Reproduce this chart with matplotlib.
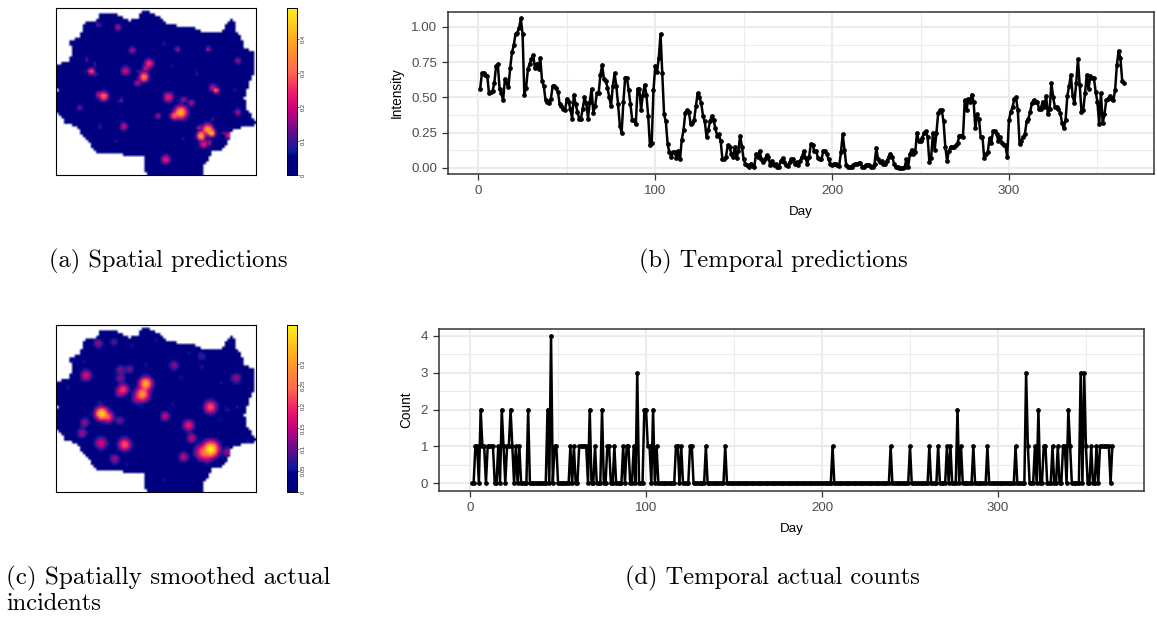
import numpy as np
import matplotlib
matplotlib.use("Agg")
import matplotlib.pyplot as plt
from matplotlib.colors import LinearSegmentedColormap
from matplotlib.path import Path

intensity = [
    .56, .67, .67, .66, .655, .53, .535, .545, .60, .72, .735, .56, .53, .48, .63, .60, .575, .71, .82, .87,
    .95, .96, .99, 1.06, .95, .52, .57, .70, .74, .77, .80, .71, .74, .70, .78, .62, .58, .48, .47, .46,
    .49, .58, .58, .57, .54, .45, .44, .42, .41, .49, .47, .42, .35, .52, .45, .40, .35, .35, .42, .50,
    .46, .35, .47, .56, .39, .44, .53, .53, .66, .73, .63, .62, .57, .50, .44, .58, .67, .58, .45, .30,
    .25, .47, .64, .64, .55, .45, .34, .34, .31, .56, .56, .41, .52, .59, .52, .37, .16, .18, .55, .72,
    .68, .78, .95, .67, .38, .33, .17, .11, .08, .11, .11, .07, .12, .06, .20, .27, .39, .41, .40, .31,
    .32, .34, .44, .53, .50, .46, .37, .33, .22, .27, .33, .37, .34, .28, .23, .24, .19, .06, .06, .08,
    .16, .15, .10, .08, .15, .07, .12, .23, .15, .06, .03, .02, .01, .03, .015, .01, .10, .08, .12, .06,
    .04, .06, .09, .08, .02, .05, .02, .03, .01, .01, .05, .07, .04, .02, .015, .04, .06, .06, .03, .04,
    .02, .05, .08, .12, .07, .03, .08, .17, .16, .12, .12, .07, .06, .06, .12, .12, .10, .06, .03, .02,
    .03, .03, .02, .015, .11, .24, .13, .02, .01, .01, .01, .02, .03, .03, .035, .035, .01, .01, .02, .02,
    .02, .01, .01, .03, .14, .06, .04, .05, .03, .03, .05, .08, .10, .08, .03, .01, .005, .0, .0, .0,
    .005, .06, .01, .10, .13, .10, .11, .25, .19, .19, .21, .25, .26, .22, .04, .07, .25, .13, .25, .39,
    .41, .41, .33, .15, .05, .12, .15, .15, .15, .16, .18, .23, .23, .22, .48, .41, .49, .47, .52, .47,
    .28, .38, .35, .22, .22, .07, .10, .11, .21, .18, .26, .26, .24, .19, .22, .18, .16, .16, .08, .34,
    .40, .43, .49, .50, .41, .17, .19, .22, .24, .33, .35, .40, .46, .48, .47, .47, .42, .42, .47, .43,
    .51, .38, .42, .60, .50, .43, .43, .42, .39, .32, .28, .34, .51, .58, .66, .51, .46, .60, .77, .59,
    .40, .41, .53, .66, .56, .65, .64, .64, .54, .47, .31, .53, .32, .38, .48, .49, .51, .49, .48, .55,
    .73, .83, .78, .62, .60,
]
count_days = [3, 4, 6, 7, 8, 10, 11, 12, 13, 16, 18, 19, 21, 22, 23, 24, 26, 28, 33, 44, 46, 48, 49,
              57, 59, 62, 63, 64, 65, 66, 68, 71, 75, 78, 79, 82, 87, 89, 90, 93, 95, 99, 100, 101, 102,
              104, 106, 117, 118, 120, 125, 126, 134, 145, 206, 239, 250, 261, 266, 271, 273, 277, 279,
              286, 294, 310, 316, 317, 321, 323, 326, 327, 331, 334, 337, 338, 340, 341, 347, 349, 350,
              353, 356, 358, 359, 360, 361, 362, 363, 365]
count_vals = [1, 1, 2, 1, 1, 1, 1, 1, 1, 1, 2, 1, 1, 1, 2, 1, 1, 1, 2, 2, 4, 1, 1,
              1, 1, 1, 1, 1, 1, 1, 2, 1, 2, 1, 1, 1, 1, 1, 1, 1, 3, 2, 2, 1, 1,
              2, 1, 1, 1, 1, 1, 1, 1, 1, 1, 1, 1, 1, 1, 1, 1, 2, 1,
              1, 1, 1, 3, 1, 1, 2, 1, 1, 1, 1, 1, 1, 2, 1, 3, 3, 1,
              1, 1, 1, 1, 1, 1, 1, 1, 1]

# region outline, x/y in 0-602 / 0-500 map units, y down
outline_x = [263, 278, 298, 318, 333, 348, 363, 413, 423, 443, 493, 501, 508, 518, 531, 538, 548, 563, 563, 588,
             595, 595, 583, 573, 563, 571, 583, 598, 588, 563, 533, 523, 513, 498, 468, 458, 443, 438, 435, 278,
             268, 268, 243, 213, 188, 118, 103, 83, 63, 28, 13, -2, -2, 8, -2, -2, 8, 38, 51, 41,
             41, 68, 78, 88, 128, 131, 178, 218, 248, 253]
outline_y = [5, 13, 23, 33, 45, 50, 53, 55, 65, 70, 75, 65, 45, 35, 37, 65, 83, 105, 123, 125,
             150, 180, 210, 240, 270, 300, 320, 340, 350, 353, 360, 370, 400, 420, 425, 445, 465, 495, 500, 500,
             485, 445, 437, 440, 430, 430, 405, 385, 350, 345, 320, 300, 260, 243, 230, 175, 165, 160, 125, 110,
             95, 90, 65, 40, 35, 18, 17, 37, 30, 13]

# hot spots: x, y, height, width
spots_a = [(126, 50, .15, 5), (185, 57, .2, 6), (228, 125, .2, 6), (321, 105, .12, 4), (363, 123, .2, 5),
           (455, 122, .25, 4), (543, 157, .18, 6), (91, 153, .15, 4), (116, 167, .12, 4), (105, 188, .3, 6),
           (118, 197, .12, 5), (208, 187, .22, 8), (278, 165, .27, 8), (268, 180, .2, 6), (248, 188, .12, 4),
           (263, 205, .38, 8), (243, 223, .2, 6), (346, 173, .08, 4), (420, 193, .1, 4), (473, 197, .08, 3),
           (468, 237, .2, 7), (479, 245, .33, 5), (535, 243, .1, 4), (143, 262, .33, 8), (128, 257, .2, 6),
           (195, 275, .15, 5), (70, 297, .15, 6), (336, 265, .25, 9), (381, 272, .18, 6), (405, 282, .2, 6),
           (373, 310, .42, 11), (353, 320, .3, 7), (305, 321, .18, 6), (543, 310, .2, 6), (133, 353, .13, 4),
           (203, 352, .22, 7), (568, 345, .1, 4), (181, 398, .1, 3), (328, 450, .25, 8), (378, 390, .1, 4),
           (453, 360, .4, 9), (433, 380, .45, 7), (465, 372, .45, 6), (428, 357, .2, 5), (441, 405, .25, 7),
           (458, 400, .2, 5), (515, 378, .25, 6), (498, 372, .12, 4), (468, 330, .12, 4), (243, 400, .06, 3),
           (396, 85, .05, 3), (225, 55, .06, 4)]
spots_c = [(126, 55, .13, 7), (173, 51, .1, 6), (228, 61, .06, 6), (298, 44, .06, 5), (398, 83, .06, 5),
           (435, 93, .09, 7), (435, 125, .07, 5), (353, 120, .13, 7), (83, 106, .06, 5), (268, 120, .06, 5),
           (375, 156, .06, 5), (493, 173, .06, 5), (538, 158, .13, 8), (90, 150, .18, 8), (193, 133, .12, 7),
           (193, 158, .12, 7), (220, 131, .12, 6), (36, 185, .06, 5), (268, 174, .33, 9), (258, 206, .28, 10),
           (243, 218, .14, 8), (201, 191, .2, 8), (191, 200, .15, 7), (131, 228, .06, 5), (136, 263, .36, 9),
           (155, 273, .22, 8), (191, 283, .11, 7), (346, 238, .06, 5), (326, 271, .16, 7), (461, 244, .24, 9),
           (511, 250, .07, 5), (541, 244, .07, 5), (488, 280, .06, 5), (86, 290, .13, 7), (78, 321, .14, 7),
           (396, 298, .2, 8), (368, 328, .05, 5), (405, 336, .16, 7), (135, 351, .17, 9), (205, 355, .24, 9),
           (571, 345, .06, 5), (463, 368, .38, 11), (438, 378, .22, 11), (453, 393, .15, 8), (513, 378, .14, 7),
           (381, 392, .16, 7), (175, 398, .14, 7), (215, 415, .06, 5), (273, 405, .05, 5), (326, 458, .06, 5)]

W, H = 1157, 619
cmap_stops = [(0, "#000080"), (.11, "#000080"), (.14, "#0A1A9A"), (.22, "#4B1090"), (.4, "#D00080"),
              (.5, "#F0206A"), (.62, "#FF6A50"), (.8, "#FFA520"), (1, "#FFF01A")]
heat = LinearSegmentedColormap.from_list("heat", cmap_stops)

plt.rcParams["font.family"] = ["Liberation Sans", "DejaVu Sans"]
fig = plt.figure(figsize=(W / 100, H / 100), dpi=100)


def px_axes(left, top, right, bottom):
    return fig.add_axes([left / W, 1 - bottom / H, (right - left) / W, (bottom - top) / H])


def draw_map(spots, top, bottom, vmax, spread):
    ax = px_axes(55.7, top, 256, bottom)
    gx, gy = np.meshgrid(np.arange(4, 602, 8.0), np.arange(4, 500, 8.0))
    field = np.zeros_like(gx)
    for x, y, h, w in spots:
        w = w * spread
        part = h * np.exp(-((gx - x) ** 2 + (gy - y) ** 2) / (2 * w * w))
        field = np.maximum(field, part) + 0.25 * np.minimum(field, part)
    rgba = heat(np.clip(field / vmax, 0, 1))
    inside = Path(np.column_stack([outline_x, outline_y])).contains_points(np.column_stack([gx.ravel(), gy.ravel()]))
    rgba[..., 3] = inside.reshape(gx.shape)
    ax.imshow(rgba, extent=(0, 602, 500, 0), interpolation="bilinear", aspect="auto")
    ax.set_xlim(0, 602)
    ax.set_ylim(500, 0)
    ax.set_xticks([])
    ax.set_yticks([])
    for s in ax.spines.values():
        s.set_linewidth(0.8)
        s.set_color("black")


def draw_bar(top, bottom, vmax, ticks, labels):
    cax = px_axes(286.7, top, 296.7, bottom)
    ramp = np.linspace(0, 1, 256)[:, None]
    cax.imshow(ramp, cmap=heat, origin="lower", aspect="auto", extent=(0, 1, 0, vmax))
    cax.set_xticks([])
    cax.yaxis.tick_right()
    cax.set_yticks(ticks, labels=labels)
    cax.tick_params(length=1.5, width=0.4, pad=1.5, labelsize=4.2, labelcolor="#333333")
    for s in cax.spines.values():
        s.set_linewidth(0.7)
    for t in cax.get_yticklabels():
        t.set_rotation(90)
        t.set_va("center")


def draw_line(ax, x, y, yticks, ylabels, yminor, ylabel, xlim, ylim):
    ax.set_xlim(*xlim)
    ax.set_ylim(*ylim)
    ax.set_xticks([0, 100, 200, 300])
    ax.set_xticks([50, 150, 250, 350], minor=True)
    ax.set_yticks(yticks, labels=ylabels)
    ax.set_yticks(yminor, minor=True)
    ax.grid(which="major", color="#EBEBEB", lw=1.5)
    ax.grid(which="minor", color="#EBEBEB", lw=0.8)
    ax.set_axisbelow(True)
    ax.plot(x, y, color="black", lw=1.8, marker="o", ms=2.4, solid_joinstyle="round")
    ax.tick_params(which="major", length=4.3, width=0.9, color="#333333", labelcolor="#4D4D4D", labelsize=9.6, pad=3.8)
    ax.tick_params(which="minor", length=0)
    ax.set_xlabel("Day", fontsize=9.6, labelpad=6)
    ax.set_ylabel(ylabel, fontsize=9.8, labelpad=5)
    for s in ax.spines.values():
        s.set_linewidth(1.1)
        s.set_color("#333333")


draw_map(spots_a, 8.3, 175, 0.49, 1.3)
draw_bar(8.3, 175, 0.49, [0, .1, .2, .3, .4], ["0", "0.1", "0.2", "0.3", "0.4"])
draw_map(spots_c, 325, 492, 0.39, 1.6)
draw_bar(325, 492, 0.39, [0, .05, .1, .15, .2, .25, .3], ["0", "0.05", "0.1", "0.15", "0.2", "0.25", "0.3"])

ax_b = px_axes(448.3, 11.7, 1154, 174)
days = np.arange(1, len(intensity) + 1)
draw_line(ax_b, days, intensity, [0, .25, .5, .75, 1], ["0.00", "0.25", "0.50", "0.75", "1.00"],
          [.125, .375, .625, .875], "Intensity", (-17, 382), (-0.043, 1.108))

counts = np.zeros(365)
counts[np.array(count_days) - 1] = count_vals
ax_d = px_axes(439.3, 329, 1144, 491)
draw_line(ax_d, np.arange(1, 366), counts, [0, 1, 2, 3, 4], ["0", "1", "2", "3", "4"],
          [.5, 1.5, 2.5, 3.5], "Count", (-17.5, 383), (-0.21, 4.19))

captions = [(168.5, 261, "(a) Spatial predictions", 17.6), (773, 261, "(b) Temporal predictions", 17.6),
            (772.5, 578, "(d) Temporal actual counts", 17.6)]
for x, y, s, size in captions:
    fig.text(x / W, 1 - y / H, s, family="cmr10", fontsize=size, ha="center", va="center")
fig.text(6 / W, 1 - 578 / H, "(c) Spatially smoothed actual", family="cmr10", fontsize=18.1, ha="left", va="center")
fig.text(6 / W, 1 - 604 / H, "incidents", family="cmr10", fontsize=17.6, ha="left", va="center")

fig.savefig("out.png", dpi=100)
